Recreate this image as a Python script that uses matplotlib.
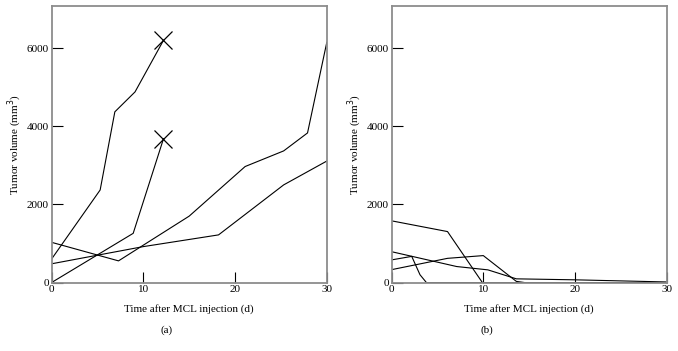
import matplotlib.pyplot as plt

plt.rcParams['font.family'] = ['Liberation Serif', 'DejaVu Serif']

# panel (a): untreated mice
a1_x = [0, 5.3, 6.9, 9.1, 12.2]
a1_y = [600, 2370, 4370, 4880, 6200]
a2_x = [0, 8.9, 12.2]
a2_y = [0, 1260, 3680]
a3_x = [0, 7.3, 15, 21.1, 25.3, 27.9, 30]
a3_y = [1030, 555, 1700, 2970, 3370, 3830, 6150]
a4_x = [0, 10, 18.2, 25.3, 30]
a4_y = [480, 920, 1220, 2500, 3110]

# panel (b): treated mice
b1_x = [0, 6.1, 9.9, 30]
b1_y = [1580, 1305, 0, 0]
b2_x = [0, 7.1, 10.5, 13.6, 20, 30]
b2_y = [790, 410, 325, 95, 70, 15]
b3_x = [0, 2.2, 3.1, 3.8, 30]
b3_y = [580, 670, 200, 0, 0]
b4_x = [0, 6.1, 10.0, 13.6, 14.5, 30]
b4_y = [330, 620, 690, 30, 0, 0]

x_ticks = [0, 10, 20, 30]
y_ticks = [0, 2000, 4000, 6000]

fig = plt.figure(figsize=(6.78, 3.51), dpi=100)
ax_a = fig.add_axes([0.076, 0.195, 0.406, 0.788])
ax_b = fig.add_axes([0.5775, 0.195, 0.406, 0.788])


def style_axes(ax):
    ax.set_xlim(0, 30)
    ax.set_ylim(0, 7080)
    ax.set_xticks(x_ticks)
    ax.set_yticks(y_ticks)
    ax.tick_params(direction='in', length=8, width=0.8, color='black',
                   labelsize=8, pad=2)
    for sp in ax.spines.values():
        sp.set_color('#8c8c8c')
        sp.set_linewidth(1.3)
    ax.set_xlabel('Time after MCL injection (d)', fontsize=8, labelpad=7)
    ax.set_ylabel('Tumor volume (mm$^3$)', fontsize=8, labelpad=2)


line_kw = dict(color='black', linewidth=0.8)

for xs, ys in [(a1_x, a1_y), (a2_x, a2_y), (a3_x, a3_y), (a4_x, a4_y)]:
    ax_a.plot(xs, ys, **line_kw)
# animals that died: mark the last point with a cross
for xs, ys in [(a1_x, a1_y), (a2_x, a2_y)]:
    ax_a.plot(xs[-1], ys[-1], marker='x', markersize=13, color='black',
              markeredgewidth=0.9, clip_on=False)

for xs, ys in [(b1_x, b1_y), (b2_x, b2_y), (b3_x, b3_y), (b4_x, b4_y)]:
    ax_b.plot(xs, ys, **line_kw)

style_axes(ax_a)
style_axes(ax_b)

fig.text(0.246, 0.06, '(a)', ha='center', va='center', fontsize=8)
fig.text(0.718, 0.06, '(b)', ha='center', va='center', fontsize=8)

fig.savefig('out.png', dpi=100)
